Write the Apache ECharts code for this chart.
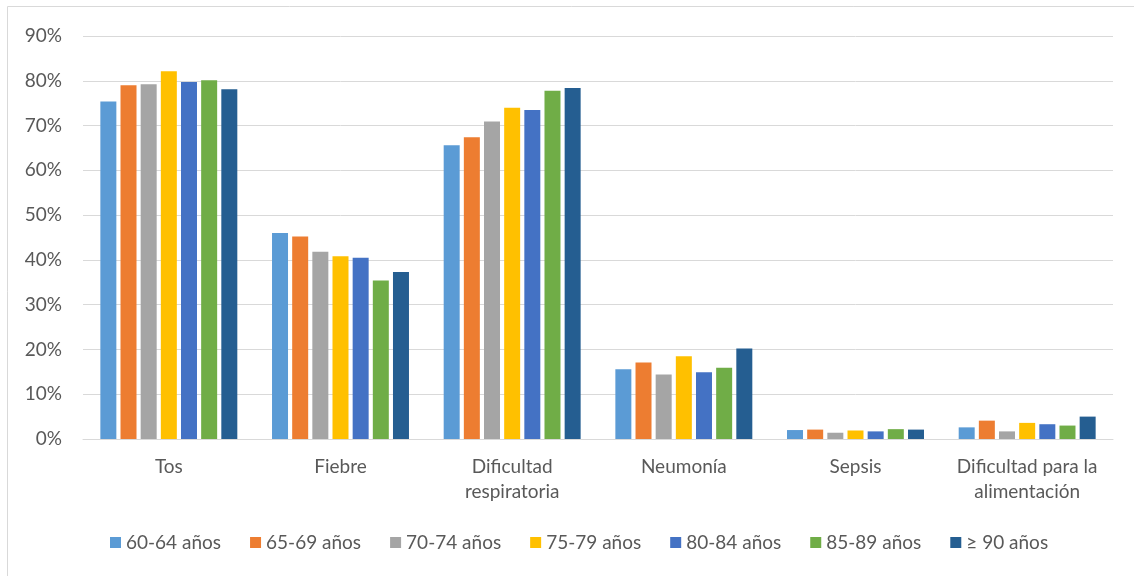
<!DOCTYPE html>
<html>
<head>
<meta charset="utf-8">
<script src="https://cdn.jsdelivr.net/npm/echarts@6/dist/echarts.min.js"></script>
<style>
  html, body { margin: 0; padding: 0; background: #fff; }
  #chart { width: 1134px; height: 576px; }
</style>
</head>
<body>
<div id="chart"></div>
<script>
// Síntomas por grupo de edad (porcentaje de casos)
const categories = ['Tos', 'Fiebre', 'Dificultad\nrespiratoria', 'Neumonía', 'Sepsis', 'Dificultad para la\nalimentación'];
const seriesNames = ['60-64 años', '65-69 años', '70-74 años', '75-79 años', '80-84 años', '85-89 años', '≥ 90 años'];
const colors = ['#5B9BD5', '#ED7D31', '#A5A5A5', '#FFC000', '#4472C4', '#70AD47', '#255E91'];

const age60_64 = [75.4, 46.0, 65.6, 15.6, 2.0, 2.6];
const age65_69 = [79.0, 45.2, 67.4, 17.1, 2.1, 4.1];
const age70_74 = [79.2, 41.8, 70.9, 14.4, 1.4, 1.7];
const age75_79 = [82.1, 40.8, 74.0, 18.5, 1.9, 3.6];
const age80_84 = [79.7, 40.5, 73.5, 14.9, 1.7, 3.3];
const age85_89 = [80.1, 35.4, 77.8, 15.9, 2.2, 3.0];
const age90plus = [78.1, 37.3, 78.4, 20.2, 2.1, 5.0];

const yTicks = { min: 0, max: 90, interval: 10 };

const allValues = [age60_64, age65_69, age70_74, age75_79, age80_84, age85_89, age90plus];

const font = 'Lato, "Open Sans", sans-serif';
const textColor = '#595959';

const chart = echarts.init(document.getElementById('chart'), null, { renderer: 'canvas' });

chart.setOption({
  animation: false,
  color: colors,
  textStyle: { fontFamily: font },
  graphic: [{
    type: 'rect',
    shape: { x: 7.5, y: 6.5, width: 1140, height: 600 },
    style: { fill: 'none', stroke: '#D9D9D9', lineWidth: 1 },
    silent: true,
    z: -1
  }],
  grid: { left: 83, right: 21, top: 36, bottom: 137 },
  legend: {
    left: 105,
    top: 528,
    itemWidth: 11,
    itemHeight: 11,
    itemGap: 29,
    icon: 'rect',
    data: seriesNames,
    textStyle: { fontFamily: font, fontSize: 19, color: textColor }
  },
  xAxis: {
    type: 'category',
    data: categories,
    axisTick: { show: false },
    axisLine: { lineStyle: { color: '#D9D9D9', width: 1 } },
    axisLabel: {
      fontFamily: font,
      fontSize: 19,
      color: textColor,
      lineHeight: 25,
      margin: 15,
      interval: 0
    }
  },
  yAxis: {
    type: 'value',
    min: yTicks.min,
    max: yTicks.max,
    interval: yTicks.interval,
    axisLine: { show: false },
    axisTick: { show: false },
    splitLine: { lineStyle: { color: '#D9D9D9', width: 1 } },
    axisLabel: {
      fontFamily: font,
      fontSize: 19,
      color: textColor,
      margin: 21,
      formatter: v => v + '%'
    }
  },
  series: seriesNames.map((name, i) => ({
    name,
    type: 'bar',
    data: allValues[i],
    barWidth: 16,
    barGap: '26%'
  }))
});
</script>
</body>
</html>
